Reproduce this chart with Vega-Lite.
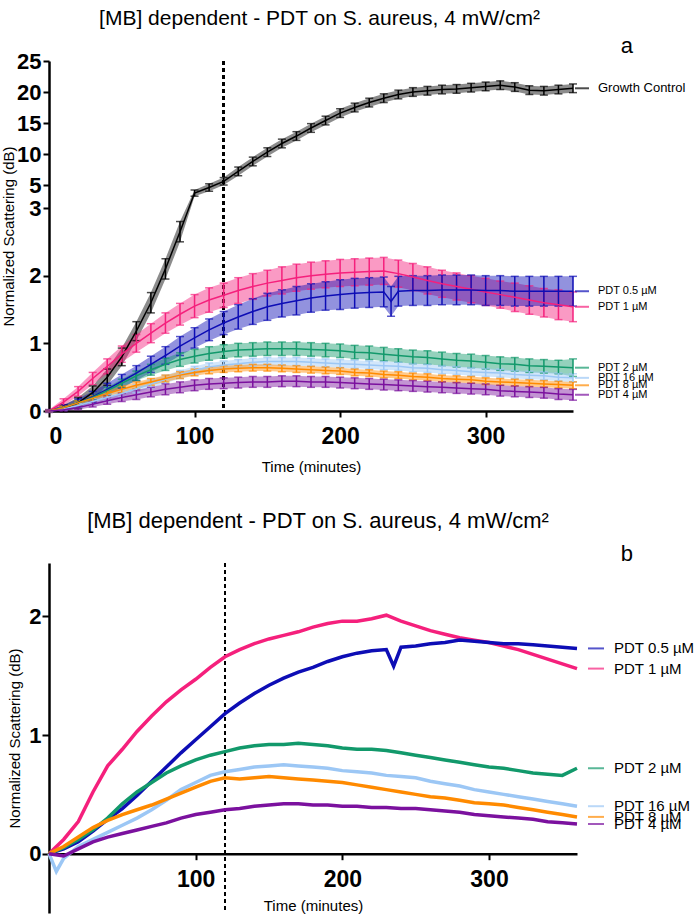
{
"$schema":"https://vega.github.io/schema/vega-lite/v6.json",
"padding":{"left":1,"top":8,"right":0,"bottom":0},
"spacing":36,
"config":{"font":"Liberation Sans","view":{"stroke":null},
"axis":{"labelFont":"Liberation Sans","labelFontWeight":"bold","labelFontSize":23,"labelColor":"black","domainColor":"black","domainWidth":2.5,"tickColor":"black","tickWidth":2,"tickSize":6,"titleFont":"Liberation Sans","titleFontWeight":"normal","titleFontSize":15,"titleColor":"black","grid":false},
"title":{"font":"Liberation Sans","fontWeight":"normal","color":"black"}},
"datasets":{"d":[
{"s":"Growth Control","t":0,"m":0,"e":0.01},{"s":"Growth Control","t":10,"m":0.04,"e":0.05},{"s":"Growth Control","t":20,"m":0.12,"e":0.08},{"s":"Growth Control","t":30,"m":0.27,"e":0.1},{"s":"Growth Control","t":40,"m":0.5,"e":0.12},{"s":"Growth Control","t":50,"m":0.8,"e":0.13},{"s":"Growth Control","t":60,"m":1.18,"e":0.14},{"s":"Growth Control","t":70,"m":1.6,"e":0.15},{"s":"Growth Control","t":80,"m":2.1,"e":0.15},{"s":"Growth Control","t":90,"m":2.65,"e":0.15},{"s":"Growth Control","t":100,"m":3.7,"e":0.5},{"s":"Growth Control","t":110,"m":4.6,"e":0.6},{"s":"Growth Control","t":120,"m":5.6,"e":0.6},{"s":"Growth Control","t":130,"m":7.2,"e":0.7},{"s":"Growth Control","t":140,"m":8.8,"e":0.7},{"s":"Growth Control","t":150,"m":10.3,"e":0.7},{"s":"Growth Control","t":160,"m":11.7,"e":0.7},{"s":"Growth Control","t":170,"m":12.9,"e":0.7},{"s":"Growth Control","t":180,"m":14.2,"e":0.7},{"s":"Growth Control","t":190,"m":15.4,"e":0.7},{"s":"Growth Control","t":200,"m":16.6,"e":0.7},{"s":"Growth Control","t":210,"m":17.5,"e":0.7},{"s":"Growth Control","t":220,"m":18.3,"e":0.7},{"s":"Growth Control","t":230,"m":19.0,"e":0.7},{"s":"Growth Control","t":240,"m":19.6,"e":0.7},{"s":"Growth Control","t":250,"m":20.0,"e":0.7},{"s":"Growth Control","t":260,"m":20.2,"e":0.7},{"s":"Growth Control","t":270,"m":20.4,"e":0.7},{"s":"Growth Control","t":280,"m":20.5,"e":0.7},{"s":"Growth Control","t":290,"m":20.7,"e":0.7},{"s":"Growth Control","t":300,"m":20.9,"e":0.7},{"s":"Growth Control","t":310,"m":21.1,"e":0.7},{"s":"Growth Control","t":320,"m":20.8,"e":0.7},{"s":"Growth Control","t":330,"m":20.3,"e":0.7},{"s":"Growth Control","t":340,"m":20.2,"e":0.7},{"s":"Growth Control","t":350,"m":20.4,"e":0.7},{"s":"Growth Control","t":360,"m":20.6,"e":0.7},
{"s":"PDT 1 µM","t":0,"m":0,"e":0.02,"y":0},{"s":"PDT 1 µM","t":10,"m":0.13,"e":0.05,"y":0.12},{"s":"PDT 1 µM","t":20,"m":0.29,"e":0.07,"y":0.27},{"s":"PDT 1 µM","t":30,"m":0.48,"e":0.09,"y":0.52},{"s":"PDT 1 µM","t":40,"m":0.66,"e":0.11,"y":0.74},{"s":"PDT 1 µM","t":50,"m":0.84,"e":0.12,"y":0.88},{"s":"PDT 1 µM","t":60,"m":1.0,"e":0.13,"y":1.03},{"s":"PDT 1 µM","t":70,"m":1.15,"e":0.14,"y":1.16},{"s":"PDT 1 µM","t":80,"m":1.3,"e":0.15,"y":1.28},{"s":"PDT 1 µM","t":90,"m":1.43,"e":0.16,"y":1.38},{"s":"PDT 1 µM","t":100,"m":1.55,"e":0.17,"y":1.47},{"s":"PDT 1 µM","t":110,"m":1.64,"e":0.18,"y":1.57},{"s":"PDT 1 µM","t":120,"m":1.71,"e":0.18,"y":1.66},{"s":"PDT 1 µM","t":130,"m":1.78,"e":0.19,"y":1.72},{"s":"PDT 1 µM","t":140,"m":1.84,"e":0.19,"y":1.77},{"s":"PDT 1 µM","t":150,"m":1.89,"e":0.19,"y":1.81},{"s":"PDT 1 µM","t":160,"m":1.93,"e":0.2,"y":1.84},{"s":"PDT 1 µM","t":170,"m":1.97,"e":0.2,"y":1.87},{"s":"PDT 1 µM","t":180,"m":2.0,"e":0.2,"y":1.91},{"s":"PDT 1 µM","t":190,"m":2.02,"e":0.2,"y":1.94},{"s":"PDT 1 µM","t":200,"m":2.04,"e":0.2,"y":1.96},{"s":"PDT 1 µM","t":210,"m":2.05,"e":0.2,"y":1.96},{"s":"PDT 1 µM","t":220,"m":2.06,"e":0.2,"y":1.98},{"s":"PDT 1 µM","t":230,"m":2.07,"e":0.2,"y":2.01},{"s":"PDT 1 µM","t":240,"m":2.03,"e":0.2,"y":1.96},{"s":"PDT 1 µM","t":250,"m":1.98,"e":0.2,"y":1.92},{"s":"PDT 1 µM","t":260,"m":1.93,"e":0.2,"y":1.88},{"s":"PDT 1 µM","t":270,"m":1.88,"e":0.2,"y":1.85},{"s":"PDT 1 µM","t":280,"m":1.84,"e":0.2,"y":1.82},{"s":"PDT 1 µM","t":290,"m":1.8,"e":0.2,"y":1.8},{"s":"PDT 1 µM","t":300,"m":1.76,"e":0.2,"y":1.78},{"s":"PDT 1 µM","t":310,"m":1.72,"e":0.2,"y":1.75},{"s":"PDT 1 µM","t":320,"m":1.68,"e":0.21,"y":1.72},{"s":"PDT 1 µM","t":330,"m":1.64,"e":0.21,"y":1.68},{"s":"PDT 1 µM","t":340,"m":1.6,"e":0.21,"y":1.64},{"s":"PDT 1 µM","t":350,"m":1.57,"e":0.22,"y":1.6},{"s":"PDT 1 µM","t":360,"m":1.54,"e":0.22,"y":1.56},
{"s":"PDT 0.5 µM","t":0,"m":0,"e":0.02,"y":0},{"s":"PDT 0.5 µM","t":10,"m":0.05,"e":0.04,"y":0.04},{"s":"PDT 0.5 µM","t":20,"m":0.12,"e":0.06,"y":0.1},{"s":"PDT 0.5 µM","t":30,"m":0.21,"e":0.08,"y":0.19},{"s":"PDT 0.5 µM","t":40,"m":0.32,"e":0.09,"y":0.29},{"s":"PDT 0.5 µM","t":50,"m":0.44,"e":0.1,"y":0.38},{"s":"PDT 0.5 µM","t":60,"m":0.56,"e":0.11,"y":0.49},{"s":"PDT 0.5 µM","t":70,"m":0.69,"e":0.12,"y":0.61},{"s":"PDT 0.5 µM","t":80,"m":0.82,"e":0.13,"y":0.73},{"s":"PDT 0.5 µM","t":90,"m":0.96,"e":0.14,"y":0.85},{"s":"PDT 0.5 µM","t":100,"m":1.08,"e":0.15,"y":0.96},{"s":"PDT 0.5 µM","t":110,"m":1.2,"e":0.16,"y":1.07},{"s":"PDT 0.5 µM","t":120,"m":1.3,"e":0.17,"y":1.18},{"s":"PDT 0.5 µM","t":130,"m":1.39,"e":0.18,"y":1.27},{"s":"PDT 0.5 µM","t":140,"m":1.47,"e":0.19,"y":1.35},{"s":"PDT 0.5 µM","t":150,"m":1.54,"e":0.2,"y":1.42},{"s":"PDT 0.5 µM","t":160,"m":1.59,"e":0.2,"y":1.48},{"s":"PDT 0.5 µM","t":170,"m":1.63,"e":0.21,"y":1.53},{"s":"PDT 0.5 µM","t":180,"m":1.67,"e":0.21,"y":1.57},{"s":"PDT 0.5 µM","t":190,"m":1.7,"e":0.21,"y":1.62},{"s":"PDT 0.5 µM","t":200,"m":1.72,"e":0.22,"y":1.66},{"s":"PDT 0.5 µM","t":210,"m":1.74,"e":0.22,"y":1.69},{"s":"PDT 0.5 µM","t":220,"m":1.75,"e":0.22,"y":1.71},{"s":"PDT 0.5 µM","t":230,"m":1.76,"e":0.22,"y":1.72},{"s":"PDT 0.5 µM","t":235,"m":1.62,"e":0.22,"y":1.58},{"s":"PDT 0.5 µM","t":240,"m":1.77,"e":0.22,"y":1.74},{"s":"PDT 0.5 µM","t":250,"m":1.78,"e":0.22,"y":1.75},{"s":"PDT 0.5 µM","t":260,"m":1.78,"e":0.22,"y":1.77},{"s":"PDT 0.5 µM","t":270,"m":1.79,"e":0.22,"y":1.78},{"s":"PDT 0.5 µM","t":280,"m":1.79,"e":0.22,"y":1.8},{"s":"PDT 0.5 µM","t":290,"m":1.79,"e":0.22,"y":1.79},{"s":"PDT 0.5 µM","t":300,"m":1.78,"e":0.22,"y":1.78},{"s":"PDT 0.5 µM","t":310,"m":1.78,"e":0.22,"y":1.77},{"s":"PDT 0.5 µM","t":320,"m":1.77,"e":0.22,"y":1.77},{"s":"PDT 0.5 µM","t":330,"m":1.77,"e":0.22,"y":1.76},{"s":"PDT 0.5 µM","t":340,"m":1.77,"e":0.22,"y":1.75},{"s":"PDT 0.5 µM","t":350,"m":1.77,"e":0.22,"y":1.74},{"s":"PDT 0.5 µM","t":360,"m":1.77,"e":0.22,"y":1.73},
{"s":"PDT 2 µM","t":0,"m":0,"e":0.01,"y":0},{"s":"PDT 2 µM","t":10,"m":0.05,"e":0.02,"y":0.05},{"s":"PDT 2 µM","t":20,"m":0.12,"e":0.03,"y":0.12},{"s":"PDT 2 µM","t":30,"m":0.2,"e":0.04,"y":0.2},{"s":"PDT 2 µM","t":40,"m":0.3,"e":0.05,"y":0.3},{"s":"PDT 2 µM","t":50,"m":0.41,"e":0.06,"y":0.42},{"s":"PDT 2 µM","t":60,"m":0.52,"e":0.07,"y":0.52},{"s":"PDT 2 µM","t":70,"m":0.61,"e":0.08,"y":0.6},{"s":"PDT 2 µM","t":80,"m":0.69,"e":0.09,"y":0.68},{"s":"PDT 2 µM","t":90,"m":0.76,"e":0.1,"y":0.74},{"s":"PDT 2 µM","t":100,"m":0.81,"e":0.1,"y":0.79},{"s":"PDT 2 µM","t":110,"m":0.85,"e":0.1,"y":0.83},{"s":"PDT 2 µM","t":120,"m":0.88,"e":0.1,"y":0.86},{"s":"PDT 2 µM","t":130,"m":0.9,"e":0.1,"y":0.89},{"s":"PDT 2 µM","t":140,"m":0.91,"e":0.1,"y":0.91},{"s":"PDT 2 µM","t":150,"m":0.92,"e":0.1,"y":0.92},{"s":"PDT 2 µM","t":160,"m":0.92,"e":0.1,"y":0.92},{"s":"PDT 2 µM","t":170,"m":0.92,"e":0.1,"y":0.93},{"s":"PDT 2 µM","t":180,"m":0.91,"e":0.1,"y":0.92},{"s":"PDT 2 µM","t":190,"m":0.9,"e":0.1,"y":0.91},{"s":"PDT 2 µM","t":200,"m":0.89,"e":0.1,"y":0.89},{"s":"PDT 2 µM","t":210,"m":0.87,"e":0.1,"y":0.88},{"s":"PDT 2 µM","t":220,"m":0.86,"e":0.1,"y":0.88},{"s":"PDT 2 µM","t":230,"m":0.84,"e":0.1,"y":0.87},{"s":"PDT 2 µM","t":240,"m":0.82,"e":0.1,"y":0.85},{"s":"PDT 2 µM","t":250,"m":0.8,"e":0.1,"y":0.83},{"s":"PDT 2 µM","t":260,"m":0.79,"e":0.1,"y":0.81},{"s":"PDT 2 µM","t":270,"m":0.77,"e":0.1,"y":0.79},{"s":"PDT 2 µM","t":280,"m":0.75,"e":0.1,"y":0.77},{"s":"PDT 2 µM","t":290,"m":0.74,"e":0.1,"y":0.75},{"s":"PDT 2 µM","t":300,"m":0.72,"e":0.1,"y":0.73},{"s":"PDT 2 µM","t":310,"m":0.7,"e":0.1,"y":0.72},{"s":"PDT 2 µM","t":320,"m":0.69,"e":0.1,"y":0.7},{"s":"PDT 2 µM","t":330,"m":0.67,"e":0.1,"y":0.68},{"s":"PDT 2 µM","t":340,"m":0.66,"e":0.1,"y":0.67},{"s":"PDT 2 µM","t":350,"m":0.65,"e":0.1,"y":0.66},{"s":"PDT 2 µM","t":360,"m":0.64,"e":0.13,"y":0.72},
{"s":"PDT 16 µM","t":0,"m":0,"e":0.01,"y":0},{"s":"PDT 16 µM","t":5,"y":-0.15},{"s":"PDT 16 µM","t":10,"m":0.03,"e":0.02,"y":-0.04},{"s":"PDT 16 µM","t":20,"m":0.08,"e":0.03,"y":0.06},{"s":"PDT 16 µM","t":30,"m":0.14,"e":0.04,"y":0.12},{"s":"PDT 16 µM","t":40,"m":0.2,"e":0.05,"y":0.18},{"s":"PDT 16 µM","t":50,"m":0.26,"e":0.05,"y":0.24},{"s":"PDT 16 µM","t":60,"m":0.33,"e":0.06,"y":0.3},{"s":"PDT 16 µM","t":70,"m":0.4,"e":0.06,"y":0.37},{"s":"PDT 16 µM","t":80,"m":0.47,"e":0.06,"y":0.45},{"s":"PDT 16 µM","t":90,"m":0.54,"e":0.06,"y":0.54},{"s":"PDT 16 µM","t":100,"m":0.6,"e":0.06,"y":0.6},{"s":"PDT 16 µM","t":110,"m":0.65,"e":0.06,"y":0.66},{"s":"PDT 16 µM","t":120,"m":0.68,"e":0.06,"y":0.69},{"s":"PDT 16 µM","t":130,"m":0.7,"e":0.06,"y":0.71},{"s":"PDT 16 µM","t":140,"m":0.72,"e":0.06,"y":0.73},{"s":"PDT 16 µM","t":150,"m":0.73,"e":0.06,"y":0.74},{"s":"PDT 16 µM","t":160,"m":0.73,"e":0.06,"y":0.75},{"s":"PDT 16 µM","t":170,"m":0.73,"e":0.06,"y":0.74},{"s":"PDT 16 µM","t":180,"m":0.72,"e":0.06,"y":0.73},{"s":"PDT 16 µM","t":190,"m":0.71,"e":0.06,"y":0.72},{"s":"PDT 16 µM","t":200,"m":0.7,"e":0.06,"y":0.7},{"s":"PDT 16 µM","t":210,"m":0.69,"e":0.06,"y":0.69},{"s":"PDT 16 µM","t":220,"m":0.68,"e":0.06,"y":0.68},{"s":"PDT 16 µM","t":230,"m":0.67,"e":0.06,"y":0.66},{"s":"PDT 16 µM","t":240,"m":0.66,"e":0.06,"y":0.65},{"s":"PDT 16 µM","t":250,"m":0.64,"e":0.06,"y":0.64},{"s":"PDT 16 µM","t":260,"m":0.63,"e":0.06,"y":0.61},{"s":"PDT 16 µM","t":270,"m":0.61,"e":0.06,"y":0.59},{"s":"PDT 16 µM","t":280,"m":0.6,"e":0.06,"y":0.57},{"s":"PDT 16 µM","t":290,"m":0.58,"e":0.06,"y":0.54},{"s":"PDT 16 µM","t":300,"m":0.57,"e":0.06,"y":0.52},{"s":"PDT 16 µM","t":310,"m":0.56,"e":0.06,"y":0.5},{"s":"PDT 16 µM","t":320,"m":0.54,"e":0.06,"y":0.48},{"s":"PDT 16 µM","t":330,"m":0.53,"e":0.06,"y":0.46},{"s":"PDT 16 µM","t":340,"m":0.52,"e":0.06,"y":0.44},{"s":"PDT 16 µM","t":350,"m":0.5,"e":0.06,"y":0.42},{"s":"PDT 16 µM","t":360,"m":0.49,"e":0.06,"y":0.4},
{"s":"PDT 8 µM","t":0,"m":0,"e":0.01,"y":0},{"s":"PDT 8 µM","t":10,"m":0.05,"e":0.02,"y":0.06},{"s":"PDT 8 µM","t":20,"m":0.12,"e":0.03,"y":0.14},{"s":"PDT 8 µM","t":30,"m":0.19,"e":0.04,"y":0.22},{"s":"PDT 8 µM","t":40,"m":0.26,"e":0.04,"y":0.28},{"s":"PDT 8 µM","t":50,"m":0.32,"e":0.05,"y":0.33},{"s":"PDT 8 µM","t":60,"m":0.38,"e":0.05,"y":0.37},{"s":"PDT 8 µM","t":70,"m":0.43,"e":0.05,"y":0.41},{"s":"PDT 8 µM","t":80,"m":0.48,"e":0.05,"y":0.46},{"s":"PDT 8 µM","t":90,"m":0.53,"e":0.05,"y":0.51},{"s":"PDT 8 µM","t":100,"m":0.57,"e":0.05,"y":0.56},{"s":"PDT 8 µM","t":110,"m":0.6,"e":0.05,"y":0.61},{"s":"PDT 8 µM","t":120,"m":0.62,"e":0.05,"y":0.64},{"s":"PDT 8 µM","t":130,"m":0.63,"e":0.05,"y":0.63},{"s":"PDT 8 µM","t":140,"m":0.64,"e":0.05,"y":0.64},{"s":"PDT 8 µM","t":150,"m":0.64,"e":0.05,"y":0.65},{"s":"PDT 8 µM","t":160,"m":0.63,"e":0.05,"y":0.64},{"s":"PDT 8 µM","t":170,"m":0.62,"e":0.05,"y":0.63},{"s":"PDT 8 µM","t":180,"m":0.61,"e":0.05,"y":0.62},{"s":"PDT 8 µM","t":190,"m":0.6,"e":0.05,"y":0.61},{"s":"PDT 8 µM","t":200,"m":0.59,"e":0.05,"y":0.6},{"s":"PDT 8 µM","t":210,"m":0.57,"e":0.05,"y":0.58},{"s":"PDT 8 µM","t":220,"m":0.56,"e":0.05,"y":0.56},{"s":"PDT 8 µM","t":230,"m":0.54,"e":0.05,"y":0.54},{"s":"PDT 8 µM","t":240,"m":0.53,"e":0.05,"y":0.52},{"s":"PDT 8 µM","t":250,"m":0.51,"e":0.05,"y":0.5},{"s":"PDT 8 µM","t":260,"m":0.5,"e":0.05,"y":0.48},{"s":"PDT 8 µM","t":270,"m":0.48,"e":0.05,"y":0.47},{"s":"PDT 8 µM","t":280,"m":0.47,"e":0.05,"y":0.45},{"s":"PDT 8 µM","t":290,"m":0.46,"e":0.05,"y":0.43},{"s":"PDT 8 µM","t":300,"m":0.44,"e":0.05,"y":0.42},{"s":"PDT 8 µM","t":310,"m":0.43,"e":0.05,"y":0.41},{"s":"PDT 8 µM","t":320,"m":0.42,"e":0.05,"y":0.39},{"s":"PDT 8 µM","t":330,"m":0.41,"e":0.05,"y":0.37},{"s":"PDT 8 µM","t":340,"m":0.4,"e":0.05,"y":0.35},{"s":"PDT 8 µM","t":350,"m":0.39,"e":0.05,"y":0.33},{"s":"PDT 8 µM","t":360,"m":0.38,"e":0.05,"y":0.31},
{"s":"PDT 4 µM","t":0,"m":0,"e":0.01,"y":0},{"s":"PDT 4 µM","t":10,"m":0.02,"e":0.02,"y":-0.02},{"s":"PDT 4 µM","t":20,"m":0.05,"e":0.03,"y":0.04},{"s":"PDT 4 µM","t":30,"m":0.1,"e":0.04,"y":0.1},{"s":"PDT 4 µM","t":40,"m":0.15,"e":0.05,"y":0.14},{"s":"PDT 4 µM","t":50,"m":0.2,"e":0.06,"y":0.17},{"s":"PDT 4 µM","t":60,"m":0.24,"e":0.07,"y":0.2},{"s":"PDT 4 µM","t":70,"m":0.28,"e":0.07,"y":0.23},{"s":"PDT 4 µM","t":80,"m":0.32,"e":0.08,"y":0.26},{"s":"PDT 4 µM","t":90,"m":0.35,"e":0.08,"y":0.3},{"s":"PDT 4 µM","t":100,"m":0.38,"e":0.08,"y":0.33},{"s":"PDT 4 µM","t":110,"m":0.4,"e":0.08,"y":0.35},{"s":"PDT 4 µM","t":120,"m":0.41,"e":0.08,"y":0.37},{"s":"PDT 4 µM","t":130,"m":0.42,"e":0.08,"y":0.38},{"s":"PDT 4 µM","t":140,"m":0.43,"e":0.08,"y":0.4},{"s":"PDT 4 µM","t":150,"m":0.43,"e":0.08,"y":0.41},{"s":"PDT 4 µM","t":160,"m":0.44,"e":0.08,"y":0.42},{"s":"PDT 4 µM","t":170,"m":0.44,"e":0.08,"y":0.42},{"s":"PDT 4 µM","t":180,"m":0.43,"e":0.08,"y":0.41},{"s":"PDT 4 µM","t":190,"m":0.43,"e":0.08,"y":0.41},{"s":"PDT 4 µM","t":200,"m":0.42,"e":0.08,"y":0.4},{"s":"PDT 4 µM","t":210,"m":0.41,"e":0.08,"y":0.4},{"s":"PDT 4 µM","t":220,"m":0.4,"e":0.08,"y":0.39},{"s":"PDT 4 µM","t":230,"m":0.39,"e":0.08,"y":0.39},{"s":"PDT 4 µM","t":240,"m":0.38,"e":0.08,"y":0.38},{"s":"PDT 4 µM","t":250,"m":0.37,"e":0.08,"y":0.38},{"s":"PDT 4 µM","t":260,"m":0.36,"e":0.08,"y":0.37},{"s":"PDT 4 µM","t":270,"m":0.35,"e":0.08,"y":0.36},{"s":"PDT 4 µM","t":280,"m":0.34,"e":0.08,"y":0.35},{"s":"PDT 4 µM","t":290,"m":0.33,"e":0.08,"y":0.33},{"s":"PDT 4 µM","t":300,"m":0.32,"e":0.08,"y":0.32},{"s":"PDT 4 µM","t":310,"m":0.3,"e":0.08,"y":0.31},{"s":"PDT 4 µM","t":320,"m":0.29,"e":0.08,"y":0.3},{"s":"PDT 4 µM","t":330,"m":0.28,"e":0.08,"y":0.29},{"s":"PDT 4 µM","t":340,"m":0.27,"e":0.08,"y":0.27},{"s":"PDT 4 µM","t":350,"m":0.25,"e":0.08,"y":0.26},{"s":"PDT 4 µM","t":360,"m":0.24,"e":0.08,"y":0.25}
]},
"vconcat":[
{"title":{"text":"[MB] dependent - PDT on S. aureus, 4 mW/cm²","fontSize":21,"anchor":"middle","offset":6,"dx":-24},
 "vconcat":[
 {"title":{"text":"a","fontSize":22,"anchor":"end","frame":"group","dx":60,"offset":-8},
  "width":524,"height":350,
  "data":{"name":"d"},
  "transform":[{"filter":"isValid(datum.m)"}],
  "layer":[
   {"mark":{"type":"rule","strokeDash":[4,3],"strokeWidth":1.5,"color":"black"},
    "encoding":{"x":{"datum":120,"type":"quantitative","scale":{"domain":[0,360],"nice":false,"zero":false}}}},
   {"mark":{"type":"errorband","opacity":0.45},
    "encoding":{"x":{"field":"t","type":"quantitative","scale":{"domain":[0,360],"nice":false,"zero":false},"title":"Time (minutes)","axis":{"values":[0,100,200,300],"labelPadding":8,"titlePadding":11}},
     "y":{"field":"m","type":"quantitative","scale":{"domain":[0,3,3.2,25],"range":[350,147,135.2,0],"nice":false,"zero":false},"title":"Normalized Scattering (dB)","axis":{"values":[0,1,2,3,5,10,15,20,25],"labelFontSize":22,"labelPadding":2,"titlePadding":0}},
     "yError":{"field":"e"},
     "color":{"field":"s","type":"nominal","legend":null,"scale":{"domain":["Growth Control","PDT 0.5 µM","PDT 1 µM","PDT 2 µM","PDT 16 µM","PDT 8 µM","PDT 4 µM"],"range":["#000000","#0d0db5","#f5207c","#12996b","#9cc7f5","#ff8a00","#7b119e"]}}}},
   {"mark":{"type":"errorbar","ticks":{"size":8,"thickness":1.5},"rule":{"strokeWidth":1.5}},
    "encoding":{"x":{"field":"t","type":"quantitative","title":"Time (minutes)"},
     "y":{"field":"m","type":"quantitative","title":"Normalized Scattering (dB)"},
     "yError":{"field":"e"},
     "color":{"field":"s","type":"nominal","legend":null}}},
   {"mark":{"type":"line","strokeWidth":1.5},
    "encoding":{"x":{"field":"t","type":"quantitative","title":"Time (minutes)"},
     "y":{"field":"m","type":"quantitative","title":"Normalized Scattering (dB)"},
     "color":{"field":"s","type":"nominal","legend":null}}},
   {"transform":[{"filter":"datum.t == 360"}],
    "mark":{"type":"tick","orient":"horizontal","size":14,"thickness":2,"xOffset":9},
    "encoding":{"x":{"field":"t","type":"quantitative","title":"Time (minutes)"},
     "y":{"field":"m","type":"quantitative","title":"Normalized Scattering (dB)"},
     "color":{"field":"s","type":"nominal","legend":null}}},
   {"transform":[{"filter":"datum.t == 360"}],
    "mark":{"type":"text","align":"left","baseline":"middle","dx":25,"color":"black","font":"Liberation Sans"},
    "encoding":{"x":{"field":"t","type":"quantitative","title":"Time (minutes)"},
     "y":{"field":"m","type":"quantitative","title":"Normalized Scattering (dB)"},
     "text":{"field":"s"},
     "size":{"condition":{"test":"datum.s === 'Growth Control'","value":13},"value":11}}}
  ]}
 ]},
{"title":{"text":"[MB] dependent - PDT on S. aureus, 4 mW/cm²","fontSize":22,"anchor":"middle","offset":10,"dx":-33},
 "vconcat":[
 {"title":{"text":"b","fontSize":22,"anchor":"end","frame":"group","dx":56,"offset":-4},
  "width":528,"height":350,
  "data":{"name":"d"},
  "transform":[{"filter":"isValid(datum.y)"}],
  "layer":[
   {"mark":{"type":"rule","strokeDash":[4,3],"strokeWidth":1.5,"color":"black"},
    "encoding":{"x":{"datum":120,"type":"quantitative","scale":{"domain":[0,360],"nice":false,"zero":false}}}},
   {"mark":{"type":"line","strokeWidth":3.5},
    "encoding":{"x":{"field":"t","type":"quantitative","scale":{"domain":[0,360],"nice":false,"zero":false},"title":"Time (minutes)","axis":{"values":[100,200,300],"offset":-59.3,"labelPadding":9,"titlePadding":7}},
     "y":{"field":"y","type":"quantitative","scale":{"domain":[-0.5,2.45],"nice":false,"zero":false},"title":"Normalized Scattering (dB)","axis":{"values":[0,1,2],"format":"d","labelFontSize":22,"tickSize":7,"labelPadding":1,"titlePadding":6}},
     "color":{"field":"s","type":"nominal","legend":null,"scale":{"domain":["Growth Control","PDT 0.5 µM","PDT 1 µM","PDT 2 µM","PDT 16 µM","PDT 8 µM","PDT 4 µM"],"range":["#000000","#0d0db5","#f5207c","#12996b","#9cc7f5","#ff8a00","#7b119e"]}}}},
   {"transform":[{"filter":"datum.t == 360"}],
    "mark":{"type":"tick","orient":"horizontal","size":16,"thickness":2,"xOffset":19},
    "encoding":{"x":{"field":"t","type":"quantitative","title":"Time (minutes)"},
     "y":{"field":"y","type":"quantitative","title":"Normalized Scattering (dB)"},
     "color":{"field":"s","type":"nominal","legend":null}}},
   {"transform":[{"filter":"datum.t == 360"}],
    "mark":{"type":"text","align":"left","baseline":"middle","dx":37,"fontSize":15,"color":"black","font":"Liberation Sans"},
    "encoding":{"x":{"field":"t","type":"quantitative","title":"Time (minutes)"},
     "y":{"field":"y","type":"quantitative","title":"Normalized Scattering (dB)"},
     "text":{"field":"s"}}}
  ]}
 ]}
]
}
